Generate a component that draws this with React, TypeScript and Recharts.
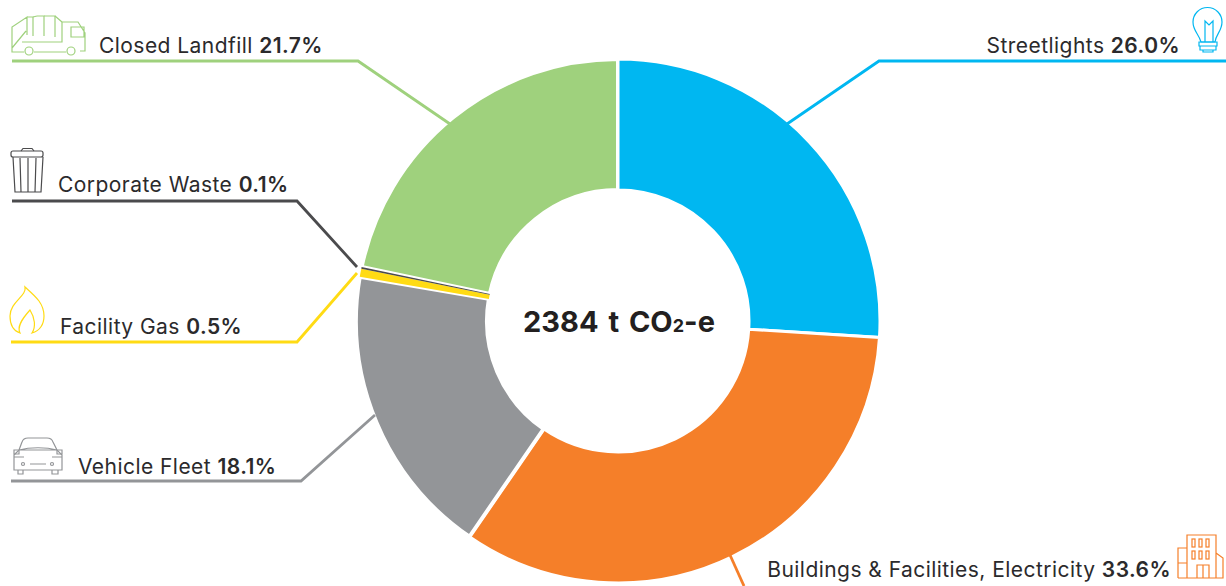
import React from 'react';
import { PieChart, Pie, Cell, Label } from 'recharts';

// Slices run clockwise from Closed Landfill so the thin slivers paint last
const categories = ['Closed Landfill', 'Streetlights', 'Buildings & Facilities, Electricity', 'Vehicle Fleet', 'Facility Gas', 'Corporate Waste'];
const shares = [21.7, 26.0, 33.6, 18.1, 0.5, 0.1];
const shareLabels = ['21.7%', '26.0%', '33.6%', '18.1%', '0.5%', '0.1%'];
const colors = ['#9fd17d', '#00b7f1', '#f57f29', '#939598', '#ffdb14', '#4b4b4d'];
const separatorWidths = [4, 3, 3, 4, 0, 0];

const CX = 618;
const CY = 321;
const START_ANGLE = -191.88;
const FONT = 'Inter, sans-serif';
const INK = '#2b2a2c';

const chartData = categories.map((name, i) => ({ name, value: shares[i] }));

const leaders = [
  '450,124 358,61 12,61',
  '787,124 879,61 1226,61',
  '730,555 744,586',
  '375,415 301,481 11,481',
  '357,273 297,342 11,342',
  '357,267 297,201 12,201',
];
const textSpots = [
  { x: 99, y: 53, anchor: 'start' },
  { x: 1180, y: 53, anchor: 'end' },
  { x: 1171, y: 577, anchor: 'end' },
  { x: 78, y: 474, anchor: 'start' },
  { x: 60, y: 334, anchor: 'start' },
  { x: 58, y: 192, anchor: 'start' },
];

const TruckIcon = () => (
  <g>
    <path d="M12 48V27L27 17V35M27 17H33V36M37 16H44V36M48 16H55V37M62 22V42H22M12 48L26 31M62 22H78L85 33V51H80M71 27H84V37H71ZM12 48V52H24M34 52H66M76 52" />
    <path d="M33 17L37 16M44 16L48 16M55 16L62 22" />
    <circle cx={29} cy={51} r={4} />
    <circle cx={71} cy={51} r={4} />
  </g>
);

const BulbIcon = () => (
  <g>
    <path d="M1201 42C1199 34 1193 31 1193 22A14.5 14.5 0 0 1 1222 22C1222 31 1216 34 1215 42Z" />
    <path d="M1205 42V21L1209 25L1213 21V42M1199 42H1217V46H1199ZM1200 46V50H1216V46M1203 50V52H1213V50" />
  </g>
);

const BuildingIcon = () => (
  <g>
    <path d="M1187 578V535H1216V578M1178 578V548H1187M1178 563H1187M1178 578H1223V558L1216 553M1197 578V565H1209V578M1203 565V578" />
    {[1192, 1199, 1206].map(x => (
      <g key={x}>
        <rect x={x} y={539} width={3} height={8} />
        <rect x={x} y={551} width={3} height={8} />
      </g>
    ))}
  </g>
);

const CarIcon = () => (
  <g>
    <path d="M19 450L22 442C23 439 25 438 28 438H47C50 438 52 439 53 442L57 450M14 455L19 450H57L62 455V470H14ZM19 450C30 447 46 447 57 450" />
    <path d="M14 454H19V450H14ZM57 450H62V454H57ZM18 470V474H23V470M52 470V474H58V470M30 464H46M14 457H24M52 457H62" />
    <circle cx={23} cy={464} r={1.5} />
    <circle cx={52} cy={464} r={1.5} />
  </g>
);

const FlameIcon = () => (
  <path d="M25 287C27 296 10 302 10 316C10 325 14 331 20 333C17 327 21 320 30 310C35 318 36 327 32 333C40 331 44 324 44 316C44 303 35 296 25 287Z" />
);

const BinIcon = () => (
  <g>
    <path d="M21 151L23 148.500H32L34 151" />
    <rect x={11} y={151} width={32} height={6} rx={2} />
    <path d="M13 157L15 192H41L43 157M20 158L21 192M28 158V192M36 158L35 192" />
  </g>
);

const icons = [TruckIcon, BulbIcon, BuildingIcon, CarIcon, FlameIcon, BinIcon];

const renderCallout = ({ index }: { index: number }) => {
  const Icon = icons[index];
  const spot = textSpots[index];
  return (
    <g key={categories[index]}>
      <polyline points={leaders[index]} fill="none" stroke={colors[index]} strokeWidth={2.8} />
      <g fill="none" stroke={colors[index]} strokeWidth={1.2}>
        <Icon />
      </g>
      <text x={spot.x} y={spot.y} textAnchor={spot.anchor} fontFamily={FONT} fontSize={21} letterSpacing={0.45} fill={INK}>
        {categories[index]} <tspan fontWeight={600}>{shareLabels[index]}</tspan>
      </text>
    </g>
  );
};

const renderCenter = () => (
  <text x={CX + 1} y={CY + 11} textAnchor="middle" fontFamily={FONT} fontSize={29} fontWeight={700} wordSpacing={3} fill="#231f20">
    2384 t CO<tspan fontSize={18}>2</tspan>-e
  </text>
);

export default function App() {
  return (
    <div style={{ position: 'absolute', left: 0, top: 0, width: 1226, height: 586, overflow: 'hidden', background: '#fff' }}>
      <PieChart width={1226} height={586} margin={{ top: 0, right: 0, bottom: 0, left: 0 }}>
        <Pie
          data={chartData}
          dataKey="value"
          cx={CX}
          cy={CY}
          innerRadius={131}
          outerRadius={262}
          startAngle={START_ANGLE}
          endAngle={START_ANGLE - 360}
          label={renderCallout}
          labelLine={false}
          isAnimationActive={false}
        >
          {chartData.map((entry, index) => (
            <Cell
              key={`cell-${index}`}
              fill={colors[index]}
              stroke={separatorWidths[index] ? '#fff' : 'none'}
              strokeWidth={separatorWidths[index]}
            />
          ))}
          <Label position="center" content={renderCenter} />
        </Pie>
      </PieChart>
    </div>
  );
}
